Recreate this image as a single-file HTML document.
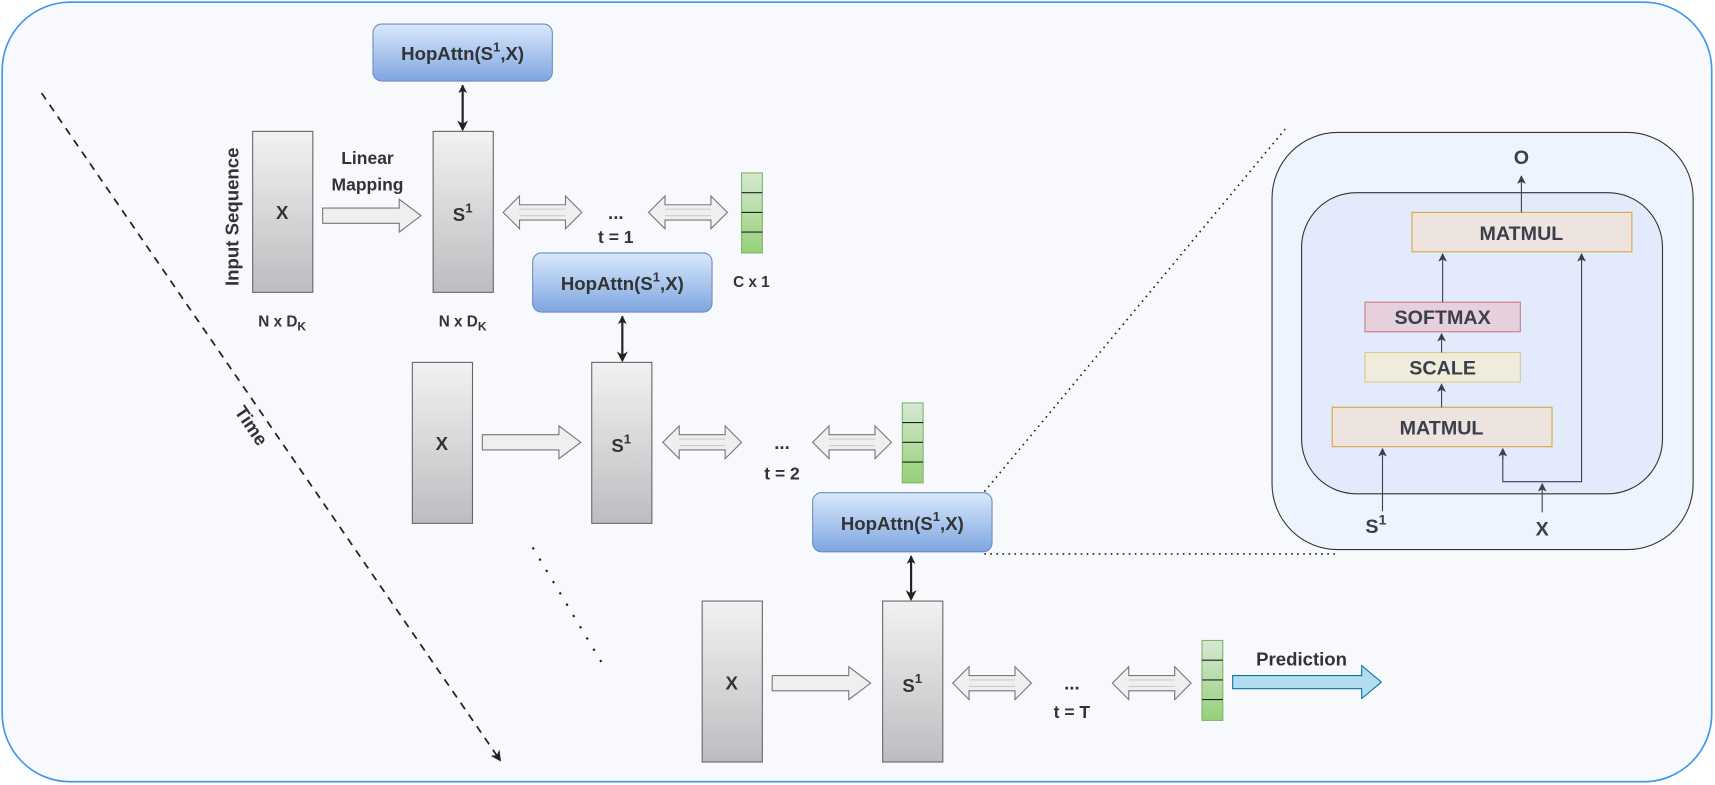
<!DOCTYPE html>
<html><head><meta charset="utf-8"><style>
html,body{margin:0;padding:0;background:#fff;}
svg{display:block;}
text{font-family:"Liberation Sans",Arial,sans-serif;font-weight:bold;fill:#333;}
</style></head><body>
<svg width="1715" height="785" viewBox="0 0 1568 717" preserveAspectRatio="none" xmlns="http://www.w3.org/2000/svg">
<defs>
<linearGradient id="gr" x1="0" y1="0" x2="0" y2="1"><stop offset="0" stop-color="#f2f2f2"/><stop offset="1" stop-color="#bdbdc1"/></linearGradient>
<linearGradient id="bl" x1="0" y1="0" x2="0" y2="1"><stop offset="0" stop-color="#dae8fc"/><stop offset="1" stop-color="#7ea6e0"/></linearGradient>
<linearGradient id="gn" x1="0" y1="0" x2="0" y2="1"><stop offset="0" stop-color="#d5e8d4"/><stop offset="1" stop-color="#97d077"/></linearGradient>
<marker id="ah" markerWidth="10" markerHeight="10" refX="8" refY="5" orient="auto" markerUnits="userSpaceOnUse"><path d="M0,0 L10,5 L0,10 L3,5 z" fill="#222"/></marker>
<marker id="as" markerWidth="8" markerHeight="8" refX="7" refY="4" orient="auto" markerUnits="userSpaceOnUse"><path d="M0,0 L8,4 L0,8 L2,4 z" fill="#3a3f4b"/></marker>
<marker id="as2" markerWidth="8" markerHeight="8" refX="1" refY="4" orient="auto" markerUnits="userSpaceOnUse"><path d="M8,0 L0,4 L8,8 L6,4 z" fill="#222"/></marker>
<g id="hollowR"><path d="M0,-7 L70,-7 L70,-15 L90,0 L70,15 L70,7 L0,7 z" fill="#efefef" stroke="#777" stroke-width="1"/></g>
<g id="hollowD"><path d="M0,0 L15,-15 L15,-7 L57,-7 L57,-15 L72,0 L57,15 L57,7 L15,7 L15,15 z" fill="#efefef" stroke="#777" stroke-width="1"/><path d="M15,-3 L57,-3 M15,3 L57,3" stroke="#ccc" stroke-width="1"/></g>
<g id="vec"><rect x="0" y="0" width="19" height="73" fill="url(#gn)" stroke="#82b366"/><path d="M0,18 H19 M0,36 H19 M0,54 H19" stroke="#222" stroke-width="1"/></g>
</defs>
<rect x="2" y="2" width="1563" height="712" rx="62" fill="#f7f9fd" stroke="#3b97ee" stroke-width="1.5"/>

<line x1="38" y1="85" x2="457" y2="694" stroke="#222" stroke-width="1.6" stroke-dasharray="7,6" marker-end="url(#ah)"/>
<text transform="translate(218,198) rotate(-90)" font-size="17" text-anchor="middle">Input Sequence</text>
<text transform="translate(225,392) rotate(56)" font-size="17" text-anchor="middle">Time</text>

<!-- column 1 -->
<rect x="231" y="120" width="55" height="147" fill="url(#gr)" stroke="#666"/>
<text x="258" y="200" font-size="17" text-anchor="middle">X</text>
<text x="258" y="298" font-size="14" text-anchor="middle" font-weight="normal">N x D<tspan font-size="11" dy="4">K</tspan></text>
<text x="336" y="150" font-size="16" text-anchor="middle">Linear</text>
<text x="336" y="174" font-size="16" text-anchor="middle">Mapping</text>
<use href="#hollowR" x="295" y="197"/>
<rect x="396" y="120" width="55" height="147" fill="url(#gr)" stroke="#666"/>
<text x="423" y="202" font-size="17" text-anchor="middle">S<tspan font-size="12" dy="-8">1</tspan></text>
<text x="423" y="298" font-size="14" text-anchor="middle">N x D<tspan font-size="11" dy="4">K</tspan></text>
<rect x="341" y="22" width="164" height="52" rx="8" fill="url(#bl)" stroke="#6c8ebf"/>
<text x="423" y="55" font-size="17" text-anchor="middle">HopAttn(S<tspan font-size="12" dy="-8">1</tspan><tspan dy="8">,X)</tspan></text>
<line x1="423" y1="78" x2="423" y2="118" stroke="#222" stroke-width="2" marker-end="url(#ah)" marker-start="url(#as2)"/>
<use href="#hollowD" x="460" y="194"/>
<text x="563" y="200" font-size="17" text-anchor="middle">...</text>
<text x="563" y="222" font-size="16" text-anchor="middle">t = 1</text>
<use href="#hollowD" x="593" y="194"/>
<use href="#vec" x="678" y="158"/>
<text x="687" y="262" font-size="14" text-anchor="middle">C x 1</text>

<rect x="487" y="231" width="164" height="54" rx="8" fill="url(#bl)" stroke="#6c8ebf"/>
<text x="569" y="265" font-size="17" text-anchor="middle">HopAttn(S<tspan font-size="12" dy="-8">1</tspan><tspan dy="8">,X)</tspan></text>
<line x1="569" y1="289" x2="569" y2="329" stroke="#222" stroke-width="2" marker-end="url(#ah)" marker-start="url(#as2)"/>

<!-- column 2 -->
<rect x="377" y="331" width="55" height="147" fill="url(#gr)" stroke="#666"/>
<text x="404" y="411" font-size="17" text-anchor="middle">X</text>
<use href="#hollowR" x="441" y="404"/>
<rect x="541" y="331" width="55" height="147" fill="url(#gr)" stroke="#666"/>
<text x="568" y="413" font-size="17" text-anchor="middle">S<tspan font-size="12" dy="-8">1</tspan></text>
<use href="#hollowD" x="606" y="404"/>
<text x="715" y="410" font-size="17" text-anchor="middle">...</text>
<text x="715" y="438" font-size="16" text-anchor="middle">t = 2</text>
<use href="#hollowD" x="743" y="404"/>
<use href="#vec" x="825" y="368"/>

<rect x="743" y="450" width="164" height="54" rx="8" fill="url(#bl)" stroke="#6c8ebf"/>
<text x="825" y="484" font-size="17" text-anchor="middle">HopAttn(S<tspan font-size="12" dy="-8">1</tspan><tspan dy="8">,X)</tspan></text>
<line x1="833" y1="508" x2="833" y2="547" stroke="#222" stroke-width="2" marker-end="url(#ah)" marker-start="url(#as2)"/>
<line x1="487" y1="500" x2="550" y2="605" stroke="#222" stroke-width="2" stroke-dasharray="2,10"/>

<!-- column 3 -->
<rect x="642" y="549" width="55" height="147" fill="url(#gr)" stroke="#666"/>
<text x="669" y="630" font-size="17" text-anchor="middle">X</text>
<use href="#hollowR" x="706" y="624"/>
<rect x="807" y="549" width="55" height="147" fill="url(#gr)" stroke="#666"/>
<text x="834" y="632" font-size="17" text-anchor="middle">S<tspan font-size="12" dy="-8">1</tspan></text>
<use href="#hollowD" x="871" y="624"/>
<text x="980" y="630" font-size="17" text-anchor="middle">...</text>
<text x="980" y="656" font-size="16" text-anchor="middle">t = T</text>
<use href="#hollowD" x="1017" y="624"/>
<use href="#vec" x="1099" y="585"/>
<text x="1190" y="608" font-size="17" text-anchor="middle">Prediction</text>
<path d="M1127,617 L1245,617 L1245,608 L1263,623 L1245,638 L1245,629 L1127,629 z" fill="#b1ddf0" stroke="#10739e" stroke-width="1"/>

<!-- dotted zoom lines -->
<line x1="900" y1="449" x2="1175" y2="118" stroke="#222" stroke-width="1.5" stroke-dasharray="1.5,4"/>
<line x1="900" y1="506" x2="1222" y2="506" stroke="#222" stroke-width="1.5" stroke-dasharray="1.5,4"/>

<!-- right panel -->
<rect x="1163" y="121" width="385" height="381" rx="60" fill="#eef4fd" stroke="#333" stroke-width="1"/>
<rect x="1190" y="176" width="330" height="275" rx="50" fill="#e3eafb" stroke="#333" stroke-width="1"/>
<rect x="1291" y="194" width="201" height="36" fill="#ede3df" stroke="#d6a83a"/>
<text x="1391" y="219" font-size="18" text-anchor="middle" style="fill:#3a3f4b">MATMUL</text>
<rect x="1248" y="276" width="142" height="27" fill="#e6d0de" stroke="#c97b84"/>
<text x="1319" y="296" font-size="18" text-anchor="middle" style="fill:#3a3f4b">SOFTMAX</text>
<rect x="1248" y="322" width="142" height="27" fill="#efecdc" stroke="#d8cb8a"/>
<text x="1319" y="342" font-size="18" text-anchor="middle" style="fill:#3a3f4b">SCALE</text>
<rect x="1218" y="372" width="201" height="36" fill="#ede3df" stroke="#d6a83a"/>
<text x="1318" y="397" font-size="18" text-anchor="middle" style="fill:#3a3f4b">MATMUL</text>
<text x="1391" y="150" font-size="18" text-anchor="middle" style="fill:#3a3f4b">O</text>
<g stroke="#3a3f4b" stroke-width="1" fill="none">
<line x1="1391" y1="194" x2="1391" y2="161" marker-end="url(#as)"/>
<line x1="1319" y1="276" x2="1319" y2="232" marker-end="url(#as)"/>
<line x1="1318" y1="322" x2="1318" y2="305" marker-end="url(#as)"/>
<line x1="1318" y1="372" x2="1318" y2="351" marker-end="url(#as)"/>
<line x1="1264" y1="467" x2="1264" y2="410" marker-end="url(#as)"/>
<line x1="1410" y1="468" x2="1410" y2="442" marker-end="url(#as)"/>
<polyline points="1374,410 1374,440 1446,440 1446,232"/>
<line x1="1374" y1="420" x2="1374" y2="410" marker-end="url(#as)"/>
<line x1="1446" y1="240" x2="1446" y2="232" marker-end="url(#as)"/>
</g>
<text x="1258" y="487" font-size="18" text-anchor="middle" style="fill:#3a3f4b">S<tspan font-size="13" dy="-8">1</tspan></text>
<text x="1410" y="489" font-size="18" text-anchor="middle" style="fill:#3a3f4b">X</text>
</svg>
</body></html>
